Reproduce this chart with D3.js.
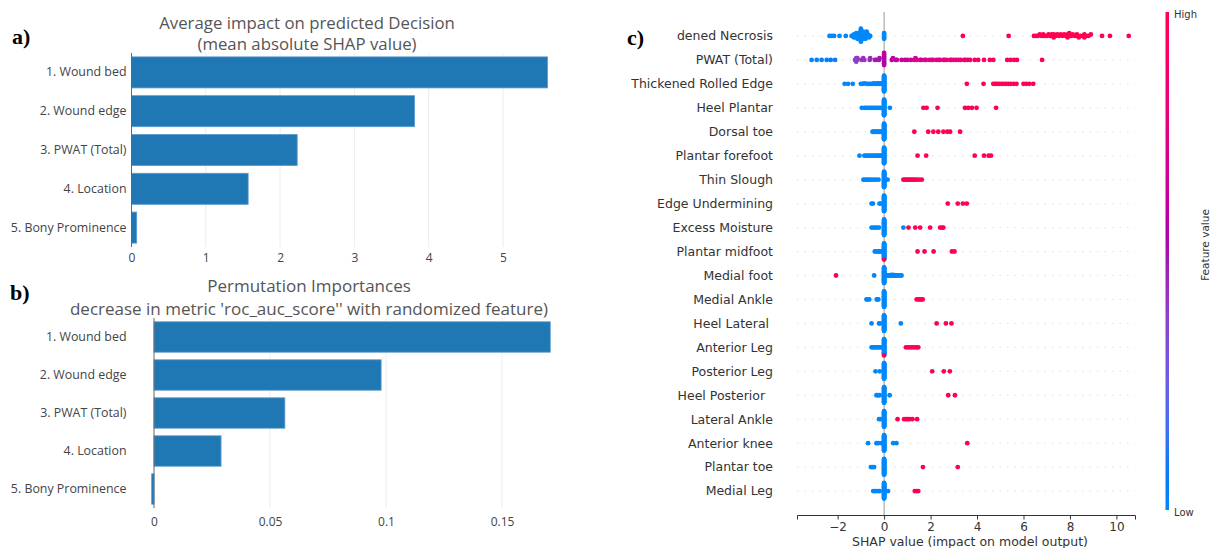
<!DOCTYPE html>
<html>
<head>
<meta charset="utf-8">
<script src="https://cdn.jsdelivr.net/npm/d3@7"></script>
<style>
  html, body { margin: 0; padding: 0; background: #fff; }
  svg { display: block; }
</style>
</head>
<body>
<svg id="fig" width="1211" height="548"></svg>
<script>
// ---------- panel a / b : ranked feature importances ----------
const rankLabels = ["1. Wound bed", "2. Wound edge", "3. PWAT (Total)", "4. Location", "5. Bony Prominence"];
const meanAbsShap = [5.60, 3.81, 2.23, 1.57, 0.07];
const meanAbsTicks = [0, 1, 2, 3, 4, 5];
const permImportance = [0.1708, 0.0979, 0.0564, 0.0289, -0.001];
const permTicks = [0, 0.05, 0.1, 0.15];

// ---------- panel c : SHAP beeswarm ----------
const features = [
  "dened Necrosis", "PWAT (Total)", "Thickened Rolled Edge", "Heel Plantar", "Dorsal toe",
  "Plantar forefoot", "Thin Slough", "Edge Undermining", "Excess Moisture", "Plantar midfoot",
  "Medial foot", "Medial Ankle", "Heel Lateral ", "Anterior Leg", "Posterior Leg",
  "Heel Posterior  ", "Lateral Ankle", "Anterior knee", "Plantar toe", "Medial Leg"
];

// SHAP values of samples whose feature value is low (0)
const lowShap = [
  [-2.35, -2.25, -2.15, -1.92, -1.65, -1.4, -1.35, -1.3, -1.3, -1.25, -1.2, -1.2, -1.2, -1.15,
   -1.1, -1.1, -1.1, -1.1, -1.05, -1.0, -1.0, -1.0, -1.0, -1.0, -0.95, -0.9, -0.9, -0.9, -0.9, -0.9,
   -0.85, -0.8, -0.8, -0.8, -0.8, -0.75, -0.7, -0.7, -0.65, -0.6],
  [],
  [-1.7, -1.55, -1.35, -1.0, -0.92, -0.85, -0.75, -0.68, -0.6, -0.52, -0.45, -0.4, -0.35, -0.3,
   -0.26, -0.22, -0.18, -0.14, -0.1, -0.07],
  [-0.96, -0.85, -0.78, -0.7, -0.62, -0.55, -0.48, -0.4, -0.33, -0.25, -0.18, -0.1, 0.25],
  [-0.5, -0.45, -0.4, -0.35, -0.3, -0.25, -0.2, -0.15, -0.1],
  [-1.06, -0.85, -0.78, -0.7, -0.62, -0.55, -0.48, -0.4, -0.33, -0.26, -0.2, -0.14, -0.08],
  [-0.89, -0.8, -0.72, -0.65, -0.55, -0.45, -0.35, -0.24, 0.15],
  [-0.54, -0.48, -0.2, -0.15],
  [-0.54, -0.45, -0.38, -0.3, -0.22, 0.83],
  [-0.4, -0.33, -0.25, -0.18, -0.1],
  [-0.43, 0.1, 0.15, 0.2, 0.25, 0.3, 0.3, 0.35, 0.4, 0.4, 0.45, 0.5, 0.55, 0.62, 0.7, 0.75],
  [-0.76, -0.7, -0.64, -0.32, -0.28, -0.25],
  [-0.54, -0.22, -0.18, 0.72],
  [-0.54, -0.48, -0.42, -0.36, -0.3, -0.24, -0.18, -0.12],
  [-0.37, -0.19],
  [-0.33, -0.26, -0.19, 0.24],
  [-0.22, -0.15],
  [-0.69, -0.33, -0.26, -0.12, 0.39, 0.53],
  [-0.57, -0.5, -0.43],
  [-0.47, -0.4, -0.33, -0.26, -0.19, 0.17]
];

// SHAP values of samples whose feature value is high (1)
const highShap = [
  [3.39, 5.36, 6.45, 6.55, 6.62, 6.7, 6.78, 6.85, 6.9, 7.0, 7.08, 7.15, 7.22, 7.3, 7.3, 7.3, 7.38,
   7.45, 7.52, 7.6, 7.68, 7.75, 7.82, 7.9, 7.9, 7.9, 7.97, 8.05, 8.12, 8.2, 8.3, 8.3, 8.38, 8.45,
   8.55, 8.62, 8.62, 8.7, 8.8, 8.9, 9.38, 9.72, 10.53],
  [],
  [3.56, 4.28, 4.7, 4.78, 4.86, 4.95, 5.05, 5.15, 5.25, 5.35, 5.45, 5.58, 5.7, 6.0, 6.12, 6.25, 6.42],
  [1.69, 1.83, 2.3, 3.48, 3.62, 3.78, 3.98, 4.82],
  [1.3, 1.9, 2.12, 2.33, 2.55, 2.72, 2.84, 3.27],
  [1.44, 1.81, 3.9, 4.3, 4.5, 4.6],
  [0.83, 0.9, 0.97, 1.03, 1.1, 1.17, 1.24, 1.32, 1.4, 1.5, 1.62],
  [2.74, 3.17, 3.39, 3.56],
  [1.05, 1.34, 1.55, 1.98, 2.41, 2.5, 2.55],
  [0.0, 1.44, 1.74, 2.13, 2.92, 3.03],
  [-2.07],
  [1.4, 1.48, 1.55, 1.6, 1.66],
  [2.26, 2.66, 2.9],
  [0.0, 0.94, 1.02, 1.1, 1.18, 1.26, 1.34, 1.42, 1.47],
  [2.07, 2.57, 2.83],
  [2.76, 3.05],
  [0.58, 0.86, 0.95, 1.02, 1.1, 1.22, 1.42],
  [3.58],
  [1.67, 3.17],
  [1.32, 1.4, 1.47]
];

// number of low-value samples whose SHAP value sits at 0
const zeroStack = [5, 0, 30, 30, 30, 30, 30, 30, 30, 30, 30, 30, 30, 30, 30, 30, 30, 30, 30, 30];

// PWAT (Total) is continuous: [SHAP value, scaled feature value]
const pwatPoints = [
  [-3.12, 0.02], [-2.9, 0.04], [-2.69, 0.05], [-2.47, 0.06], [-2.3, 0.08], [-2.11, 0.1],
  [-1.25, 0.38], [-1.2, 0.38], [-1.2, 0.4], [-1.18, 0.4], [-1.15, 0.42],
  [-0.98, 0.42], [-0.9, 0.44], [-0.85, 0.44], [-0.62, 0.46], [-0.6, 0.46],
  [-0.4, 0.48], [-0.35, 0.5], [-0.22, 0.5], [-0.2, 0.52],
  [0, 0.5], [0, 0.52], [0, 0.54], [0, 0.55], [0, 0.56], [0, 0.58], [0, 0.6], [0, 0.62],
  [0.33, 0.6], [0.38, 0.6], [0.5, 0.62], [0.55, 0.62], [0.75, 0.64], [0.9, 0.64], [1.0, 0.66],
  [1.15, 0.66], [1.3, 0.68], [1.35, 0.68], [1.4, 0.7], [1.55, 0.7], [1.6, 0.72], [1.75, 0.72],
  [1.8, 0.72], [1.95, 0.74], [2.05, 0.74], [2.1, 0.75], [2.25, 0.76], [2.35, 0.76], [2.4, 0.78],
  [2.55, 0.78], [2.6, 0.8], [2.7, 0.8], [2.85, 0.8], [2.9, 0.82], [3.0, 0.82], [3.1, 0.84],
  [3.2, 0.84], [3.3, 0.85], [3.45, 0.86], [3.5, 0.86], [3.6, 0.88], [3.7, 0.88], [3.9, 0.9],
  [4.05, 0.9], [4.3, 0.9], [4.55, 0.92], [4.7, 0.92], [5.3, 0.94], [5.45, 0.94], [5.6, 0.95],
  [5.72, 0.96], [6.8, 0.98]
];
const pwatRow = 1;
const shapTicks = [-2, 0, 2, 4, 6, 8, 10];

// ---------------------------------------------------------------
const svg = d3.select("#fig");
const uiFont = "'Open Sans', sans-serif";
const mplFont = "'DejaVu Sans', sans-serif";

function panelLetter(txt, x, y) {
  svg.append("text").attr("x", x).attr("y", y).text(txt)
    .attr("font-family", "'Liberation Serif', serif").attr("font-weight", "bold")
    .attr("font-size", 22).attr("fill", "#000");
}

function importancePanel(o) {
  const x = d3.scaleLinear().domain(o.domain).range(o.range);
  const y = d3.scaleBand().domain(rankLabels).range([o.top, o.bottom])
    .paddingInner(0.2).paddingOuter(0.1);
  const g = svg.append("g").attr("font-family", uiFont);

  // vertical grid
  g.append("g").selectAll("line").data(o.ticks.filter(t => t !== 0)).join("line")
    .attr("x1", d => x(d)).attr("x2", d => x(d))
    .attr("y1", o.top).attr("y2", o.bottom)
    .attr("stroke", "#ececec").attr("stroke-width", 1);

  // bars
  g.append("g").selectAll("rect").data(o.values).join("rect")
    .attr("x", d => Math.min(x(0), x(d)))
    .attr("width", d => Math.max(1.5, Math.abs(x(d) - x(0))))
    .attr("y", (d, i) => y(rankLabels[i]))
    .attr("height", y.bandwidth())
    .attr("fill", "#1f77b4")
    .attr("stroke", "#5b9bd0").attr("stroke-width", 0.8);

  // zero line
  g.append("line").attr("x1", x(0)).attr("x2", x(0))
    .attr("y1", o.top).attr("y2", o.bottom)
    .attr("stroke", "#666").attr("stroke-width", 1);

  // x tick labels
  const ax = g.append("g").attr("transform", `translate(0,${o.tickY})`)
    .call(d3.axisBottom(x).tickValues(o.ticks).tickSize(0).tickFormat(o.fmt));
  ax.select(".domain").remove();
  ax.selectAll("text").attr("y", 0).attr("dy", "0.35em")
    .attr("font-family", uiFont).attr("font-size", 12).attr("fill", "#444");

  // category labels
  const ay = g.append("g").attr("transform", `translate(${o.labelX},0)`)
    .call(d3.axisLeft(y).tickSize(0).tickPadding(0));
  ay.select(".domain").remove();
  ay.selectAll("text").attr("font-family", uiFont).attr("font-size", 12.4).attr("fill", "#444");

  // title
  o.title.forEach((t, i) => {
    g.append("text").attr("x", o.titleX).attr("y", o.titleY[i]).attr("dy", "0.35em")
      .attr("text-anchor", "middle").attr("font-size", o.titleSize).attr("fill", "#555").text(t);
  });
}

importancePanel({
  values: meanAbsShap, ticks: meanAbsTicks, fmt: d3.format("d"),
  domain: [0, 5.9], range: [131.5, 131.5 + 5.9 * 74.3],
  top: 53, bottom: 247, tickY: 258, labelX: 126.5,
  title: ["Average impact on predicted Decision", "(mean absolute SHAP value)"],
  titleX: 307, titleY: [23, 44], titleSize: 16.8
});

importancePanel({
  values: permImportance, ticks: permTicks, fmt: d => d === 0 ? "0" : String(d),
  domain: [0, 0.18], range: [154, 154 + 0.18 * 2320],
  top: 318, bottom: 508, tickY: 522, labelX: 126.5,
  title: ["Permutation Importances", "decrease in metric 'roc_auc_score'' with randomized feature)"],
  titleX: 309, titleY: [286, 309], titleSize: 17
});

panelLetter("a)", 12, 44);
panelLetter("b)", 10, 300);
panelLetter("c)", 627, 45);

// ---------------- beeswarm ----------------
const nRows = features.length;
const cx = d3.scaleLinear().domain([-3.75, 10.8]).range([797, 1135]);
const cy = d3.scaleLinear().domain([-1, nRows]).range([515, 12]);

// blue -> purple -> red map built in LCh (lightness dips to 40 in the middle)
function shapColor(t) {
  const l = t < 0.5 ? 54 - 28 * t : 40 + 28 * (t - 0.5);
  const c = 70 + 20 * t;
  const h = 266.93 + t * (380.32 - 266.93);
  return d3.lch(l, c, h).formatHex();
}

const gc = svg.append("g").attr("font-family", mplFont);

// dotted row guides
gc.append("g").selectAll("line").data(features).join("line")
  .attr("x1", cx.range()[0]).attr("x2", cx.range()[1])
  .attr("y1", (d, i) => cy(nRows - 1 - i)).attr("y2", (d, i) => cy(nRows - 1 - i))
  .attr("stroke", "#d4d4d4").attr("stroke-width", 0.7).attr("stroke-dasharray", "1.5,6");

// zero line
gc.append("line").attr("x1", cx(0)).attr("x2", cx(0))
  .attr("y1", cy.range()[1]).attr("y2", cy.range()[0])
  .attr("stroke", "#999").attr("stroke-width", 1);

// build points per row and lay them out like shap's beeswarm
const rowPoints = features.map((f, i) => {
  let pts;
  if (i === pwatRow) {
    pts = pwatPoints.map(([v, c]) => ({ v, c }));
  } else {
    pts = lowShap[i].map(v => ({ v, c: 0 }));
    for (let k = 0; k < zeroStack[i]; k++) pts.push({ v: 0, c: 0 });
    highShap[i].forEach(v => pts.push({ v, c: 1 }));
  }
  const lo = d3.min(pts, p => p.v), hi = d3.max(pts, p => p.v);
  const nbins = 100;
  pts.forEach((p, k) => { p.q = Math.round(nbins * (p.v - lo) / (hi - lo + 1e-8)); p.k = k; });
  const order = pts.slice().sort((a, b) => a.q - b.q || a.k - b.k);
  let layer = 0, last = -1;
  order.forEach(p => {
    if (p.q !== last) layer = 0;
    p.ys = Math.ceil(layer / 2) * ((layer % 2) * 2 - 1);
    layer++; last = p.q;
  });
  const m = d3.max(pts, p => p.ys + 1);
  pts.forEach(p => { p.ys *= 0.9 * (0.4 / m); p.row = nRows - 1 - i; });
  return pts;
});

gc.append("g").selectAll("circle").data(rowPoints.flat()).join("circle")
  .attr("cx", d => cx(d.v))
  .attr("cy", d => cy(d.row + d.ys))
  .attr("r", 2.4)
  .attr("fill", d => shapColor(d.c));

// feature labels
gc.append("g").selectAll("text").data(features).join("text")
  .attr("x", 773).attr("y", (d, i) => cy(nRows - 1 - i)).attr("dy", "0.35em")
  .attr("text-anchor", "end").style("white-space", "pre")
  .attr("font-size", 12.5).attr("fill", "#333").text(d => d);

// x axis
const cax = gc.append("g").attr("transform", `translate(0,515)`)
  .call(d3.axisBottom(cx).tickValues(shapTicks).tickSize(4.5).tickPadding(3));
cax.select(".domain").attr("stroke", "#333").attr("stroke-width", 1);
cax.selectAll(".tick line").attr("stroke", "#333");
cax.selectAll("text").attr("font-family", mplFont).attr("font-size", 12).attr("fill", "#333");

gc.append("text").attr("x", 970).attr("y", 546).attr("text-anchor", "middle")
  .attr("font-size", 12.5).attr("fill", "#333").text("SHAP value (impact on model output)");

// colour bar
const defs = svg.append("defs");
const grad = defs.append("linearGradient").attr("id", "shapGrad")
  .attr("x1", 0).attr("y1", 1).attr("x2", 0).attr("y2", 0);
d3.range(0, 1.0001, 0.05).forEach(t => {
  grad.append("stop").attr("offset", t).attr("stop-color", shapColor(t));
});
gc.append("rect").attr("x", 1165.5).attr("y", 12).attr("width", 3.5).attr("height", 498)
  .attr("fill", "url(#shapGrad)");
gc.append("text").attr("x", 1174).attr("y", 14).attr("dy", "0.35em")
  .attr("font-size", 10).attr("fill", "#333").text("High");
gc.append("text").attr("x", 1174).attr("y", 512).attr("dy", "0.35em")
  .attr("font-size", 10).attr("fill", "#333").text("Low");
gc.append("text").attr("transform", "translate(1205,245) rotate(-90)")
  .attr("text-anchor", "middle").attr("dy", "0.35em")
  .attr("font-size", 10.5).attr("fill", "#333").text("Feature value");
</script>
</body>
</html>
